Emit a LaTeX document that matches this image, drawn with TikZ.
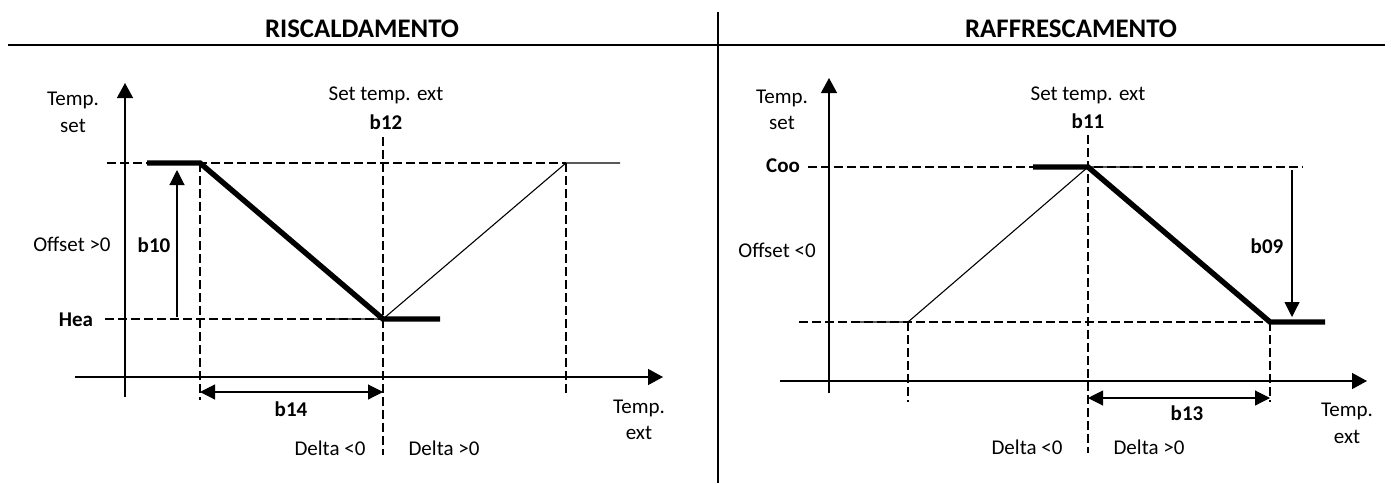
\documentclass[tikz,border=0pt]{standalone}
\usepackage{fontspec}
\setmainfont{Carlito}
\usetikzlibrary{arrows.meta}
\begin{document}
\begin{tikzpicture}[x=.5pt,y=-.5pt,
  every node/.style={inner sep=0pt,font=\fontsize{10.5}{12}\selectfont},
  lbl/.style={font=\fontsize{10.5}{12}\selectfont\bfseries},
  ttl/.style={font=\fontsize{13.4}{15}\selectfont\bfseries},
  rule/.style={line width=1pt},
  axis/.style={line width=.65pt,-{Triangle[length=7.5pt,width=8pt]}},
  guide/.style={line width=.6pt,dash pattern=on 4.5pt off 2pt},
  curve/.style={line width=2.7pt},
  fine/.style={line width=.55pt},
  dim/.style={line width=.55pt,-{Triangle[length=7.5pt,width=7.5pt]}},
  ddim/.style={line width=.55pt,{Triangle[length=7.5pt,width=7.5pt]}-{Triangle[length=7.5pt,width=7.5pt]}}]
\useasboundingbox (0,0) rectangle (1391,483);
\coordinate (rulel) at (8,45);
\coordinate (ruler) at (1385,45);
\coordinate (divt) at (718,12);
\coordinate (divb) at (718,483);
\draw[rule] (rulel)--(ruler);
\draw[rule] (divt)--(divb);
\node[ttl] (heat) at (362,29) {RISCALDAMENTO};
\node[ttl] (cool) at (1071,29) {RAFFRESCAMENTO};
\coordinate (hyb) at (125,397);
\coordinate (hyt) at (125,83);
\coordinate (hxl) at (75,377);
\coordinate (hxr) at (663,377);
\coordinate (hul) at (107,163);
\coordinate (hll) at (105,319);
\coordinate (hls) at (328,319);
\coordinate (hp1) at (147,163);
\coordinate (hp2) at (200,163);
\coordinate (hp3) at (383,319);
\coordinate (hp4) at (440,319);
\coordinate (hp5) at (566,163);
\coordinate (hp6) at (620,163);
\coordinate (hv1) at (200,400);
\coordinate (hv2t) at (383,137);
\coordinate (hv2b) at (383,455);
\coordinate (hv3) at (566,393);
\coordinate (hof1) at (177,317);
\coordinate (hof2) at (177,170);
\coordinate (hd1) at (200,392);
\coordinate (hd2) at (383,392);
\draw[axis] (hyb)--(hyt);
\draw[axis] (hxl)--(hxr);
\draw[guide] (hul)--(hp5);
\draw[guide] (hll)--(hp3);
\draw[guide] (hp2)--(hv1);
\draw[guide] (hv2t)--(hv2b);
\draw[guide] (hp5)--(hv3);
\draw[fine] (hls)--(hp3)--(hp5)--(hp6);
\draw[curve] (hp1)--(hp2)--(hp3)--(hp4);
\draw[dim] (hof1)--(hof2);
\draw[ddim] (hd1)--(hd2);
\node (hty) at (73,100) {Temp.};
\node (hts) at (73,126) {set};
\node (hoff) at (72,244) {Offset >0};
\node[lbl] (hb10) at (154,245) {b10};
\node[lbl] (hea) at (76,320) {Hea};
\node (hset) at (386,95) {Set temp. ext};
\node[lbl] (hb12) at (386,122) {b12};
\node[lbl] (hb14) at (291,409) {b14};
\node (htx) at (639,408) {Temp.};
\node (hte) at (639,433) {ext};
\node (hdn) at (330,448) {Delta <0};
\node (hdp) at (444,448) {Delta >0};
\coordinate (cyb) at (829,393);
\coordinate (cyt) at (829,78);
\coordinate (cxl) at (780,381);
\coordinate (cxr) at (1367,381);
\coordinate (cul) at (808,167);
\coordinate (cur) at (1303,167);
\coordinate (cll) at (799,322);
\coordinate (cls) at (853,322);
\coordinate (cp1) at (1033,167);
\coordinate (cp2) at (1088,167);
\coordinate (cp3) at (1270,322);
\coordinate (cp4) at (1325,322);
\coordinate (cq1) at (908,322);
\coordinate (cq2) at (1143,167);
\coordinate (cv1) at (908,402);
\coordinate (cv2t) at (1088,135);
\coordinate (cv2b) at (1088,453);
\coordinate (cv3) at (1270,402);
\coordinate (cd1) at (1088,398);
\coordinate (cd2) at (1270,398);
\coordinate (cof1) at (1292,170);
\coordinate (cof2) at (1292,317);
\draw[axis] (cyb)--(cyt);
\draw[axis] (cxl)--(cxr);
\draw[guide] (cul)--(cur);
\draw[guide] (cll)--(cp3);
\draw[guide] (cq1)--(cv1);
\draw[guide] (cv2t)--(cv2b);
\draw[guide] (cp3)--(cv3);
\draw[fine] (cls)--(cq1)--(cp2)--(cq2);
\draw[curve] (cp1)--(cp2)--(cp3)--(cp4);
\draw[dim] (cof1)--(cof2);
\draw[ddim] (cd1)--(cd2);
\node (cty) at (782,98) {Temp.};
\node (cts) at (782,123) {set};
\node[lbl] (coo) at (783,166) {Coo};
\node (coff) at (777,250) {Offset <0};
\node (cset) at (1088,95) {Set temp. ext};
\node[lbl] (cb11) at (1088,121) {b11};
\node[lbl] (cb09) at (1267,246) {b09};
\node[lbl] (cb13) at (1187,413) {b13};
\node (ctx) at (1347,411) {Temp.};
\node (cte) at (1347,437) {ext};
\node (cdn) at (1027,447) {Delta <0};
\node (cdp) at (1149,447) {Delta >0};
\end{tikzpicture}
\end{document}
